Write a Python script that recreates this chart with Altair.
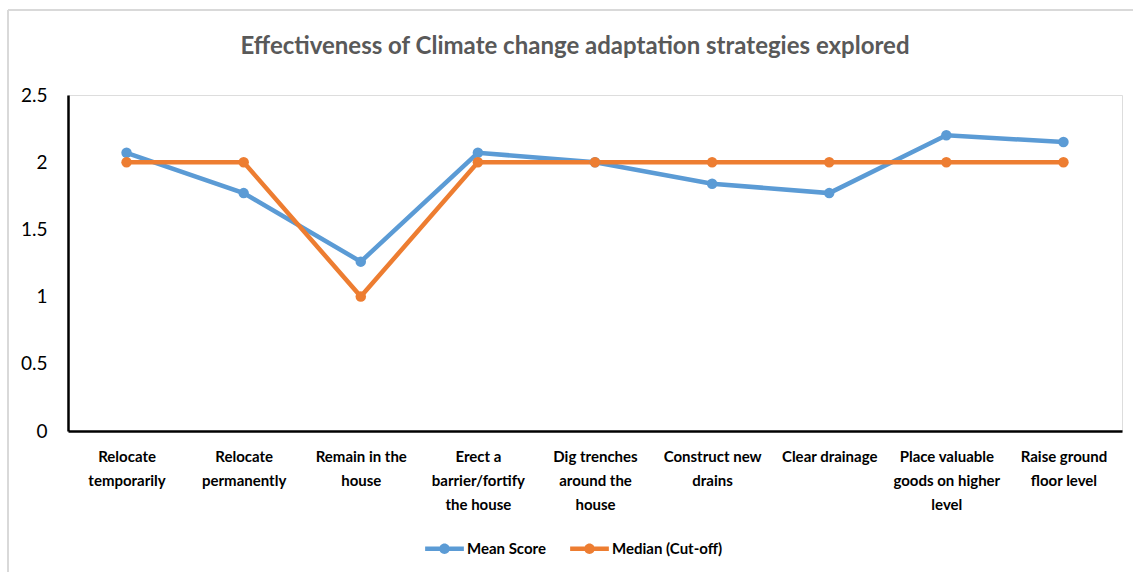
import altair as alt
import pandas as pd

categories = [
    "Relocate\ntemporarily",
    "Relocate\npermanently",
    "Remain in the\nhouse",
    "Erect a\nbarrier/fortify\nthe house",
    "Dig trenches\naround the\nhouse",
    "Construct new\ndrains",
    "Clear drainage",
    "Place valuable\ngoods on higher\nlevel",
    "Raise ground\nfloor level",
]
mean_score = [2.07, 1.77, 1.26, 2.07, 2.0, 1.84, 1.77, 2.2, 2.15]
median_cutoff = [2, 2, 1, 2, 2, 2, 2, 2, 2]
series_names = ["Mean Score", "Median (Cut-off)"]
series_colors = ["#5B9BD5", "#ED7D31"]

rows = []
for i, c in enumerate(categories):
    rows.append({"strategy": c, "series": series_names[0], "value": mean_score[i], "order": 0})
for i, c in enumerate(categories):
    rows.append({"strategy": c, "series": series_names[1], "value": median_cutoff[i], "order": 1})
df = pd.DataFrame(rows)

FONT = "Lato"

x_enc = alt.X(
    "strategy:N",
    sort=categories,
    scale=alt.Scale(type="point", padding=0.5),
    axis=alt.Axis(
        title=None,
        labelAngle=0,
        labelExpr="split(datum.label, '\\n')",
        labelFont=FONT,
        labelFontSize=15,
        labelFontWeight="bold",
        labelColor="#000000",
        labelLineHeight=24,
        labelPadding=18,
        ticks=False,
        domainColor="#000000",
        domainWidth=2.5,
        labelLimit=200,
    ),
)
y_enc = alt.Y(
    "value:Q",
    scale=alt.Scale(domain=[0, 2.5], nice=False),
    axis=alt.Axis(
        title=None,
        values=[0, 0.5, 1, 1.5, 2, 2.5],
        labelExpr="datum.value == 0 ? '0' : format(datum.value, '.2~f')",
        labelFont=FONT,
        labelFontSize=19,
        labelColor="#000000",
        labelPadding=21,
        ticks=False,
        grid=False,
        domainColor="#000000",
        domainWidth=2.5,
    ),
)
color_scale = alt.Scale(domain=series_names, range=series_colors)

symbol_path = (
    "M-1,-0.11L1,-0.11L1,0.11L-1,0.11Z"
    "M0.27,0A0.27,0.27 0 1,1 -0.27,0A0.27,0.27 0 1,1 0.27,0Z"
)

legend = alt.Legend(
    title=None,
    orient="none",
    direction="horizontal",
    legendX=357,
    legendY=434,
    symbolType=symbol_path,
    symbolSize=1500,
    symbolOpacity=1,
    symbolStrokeWidth=0,
    labelFont=FONT,
    labelFontSize=15,
    labelFontWeight="bold",
    labelColor="#000000",
    labelOffset=3,
    columnPadding=24,
)

color_enc = alt.Color("series:N", scale=color_scale, legend=legend)

lines = alt.Chart(df).mark_line(strokeWidth=4.5).encode(
    x=x_enc,
    y=y_enc,
    color=color_enc,
    detail="series:N",
)

points = alt.Chart(df).mark_circle(size=110, opacity=1).encode(
    x=x_enc,
    y=y_enc,
    color=color_enc,
    order="order:Q",
)

# light chart-area border (left and top edges, as in the reference frame)
frame_left = alt.Chart(df).mark_rule(color="#d9d9d9", strokeWidth=2, clip=False).encode(
    x=alt.value(-60), y=alt.value(-85), y2=alt.value(490)
)
frame_top = alt.Chart(df).mark_rule(color="#d9d9d9", strokeWidth=2, clip=False).encode(
    x=alt.value(-60), x2=alt.value(1070), y=alt.value(-85)
)

chart = (
    alt.layer(frame_left, frame_top, lines, points)
    .properties(
        width=1054,
        height=336,
        autosize=alt.AutoSizeParams(type="none"),
        padding={"left": 68, "top": 95, "right": 11, "bottom": 141},
        title=alt.TitleParams(
            "Effectiveness of Climate change adaptation strategies explored",
            font=FONT,
            fontSize=24,
            fontWeight="bold",
            color="#595959",
            anchor="middle",
            dx=-20,
            dy=50,
            offset=0,
        ),
    )
    .configure_view(stroke=None)
    .configure(background="white")
)

chart.save("out.html", embed_options={"renderer": "svg", "actions": False})
